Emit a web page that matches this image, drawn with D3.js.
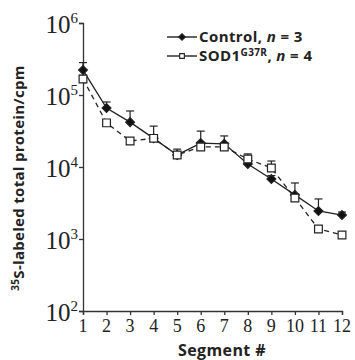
<!DOCTYPE html>
<html>
<head>
<meta charset="utf-8">
<script src="https://cdn.jsdelivr.net/npm/d3@7"></script>
<style>
  body { margin: 0; background: #fff; }
  #chart { width: 355px; height: 360px; }
</style>
</head>
<body>
<div id="chart"></div>
<script>
// segment numbers along the x axis
const segments = [1, 2, 3, 4, 5, 6, 7, 8, 9, 10, 11, 12];

// control mice, n = 3 (mean and upper error)
const controlMean = [222000, 66000, 42000, 25000, 14700, 21500, 21000, 11000, 6800, 4100, 2450, 2150];
const controlErr  = [60000, 14000, 18000, 12000, 3000, 10000, 6000, 1000, 800, 1900, 1150, 220];

// SOD1 G37R mice, n = 4
const sodMean = [167000, 41000, 23000, 25000, 14700, 19000, 19000, 12900, 9700, 3700, 1380, 1140];
const sodErr  = [20000, 4000, 2000, 3000, 1500, 3000, 2000, 2300, 2400, 400, 100, 100];

const yTicks = [100, 1000, 10000, 100000, 1000000];

const width = document.querySelector("#chart").clientWidth;
const height = document.querySelector("#chart").clientHeight;
const svg = d3.select("#chart")
    .append("svg")
    .attr("width", width)
    .attr("height", height);

const x = d3.scaleLinear().domain([1, 12]).range([83, 342]);
const y = d3.scaleLog().domain([100, 1000000]).range([311, 23]);

const sans = "'Open Sans', 'DejaVu Sans', sans-serif";
const serif = "'Liberation Serif', 'DejaVu Serif', serif";

// axes
svg.append("g")
    .attr("transform", "translate(83,0)")
    .call(d3.axisLeft(y).tickValues(yTicks).tickSize(4).tickFormat(""));
svg.append("g")
    .attr("transform", "translate(0,311)")
    .call(d3.axisBottom(x).tickValues(segments).tickSize(4).tickFormat(""));
svg.selectAll(".domain").attr("stroke", "#333").attr("stroke-width", 1.3);
svg.selectAll(".tick line").attr("stroke", "#333").attr("stroke-width", 1.3);

// y tick labels as 10^n
yTicks.forEach(function(t) {
    const lab = svg.append("text")
        .attr("x", 78)
        .attr("y", y(t) + 10)
        .attr("text-anchor", "end")
        .attr("font-family", serif)
        .attr("font-size", "25px")
        .attr("fill", "#222");
    lab.append("tspan").text("10");
    lab.append("tspan")
        .attr("dy", -10)
        .attr("font-size", "15px")
        .text(Math.round(Math.log10(t)));
});

// x tick labels
svg.selectAll(".xlab")
    .data(segments)
    .enter()
    .append("text")
        .attr("x", function(d) { return x(d); })
        .attr("y", 332)
        .attr("text-anchor", "middle")
        .attr("font-family", serif)
        .attr("font-size", "18px")
        .attr("fill", "#222")
        .text(function(d) { return d; });

// axis titles
svg.append("text")
    .attr("x", 222)
    .attr("y", 356)
    .attr("text-anchor", "middle")
    .attr("font-family", sans)
    .attr("font-weight", "bold")
    .attr("font-size", "16px")
    .attr("letter-spacing", "0.4px")
    .attr("fill", "#222")
    .text("Segment #");

const yt = svg.append("text")
    .attr("transform", "translate(24,178) rotate(-90)")
    .attr("text-anchor", "middle")
    .attr("font-family", sans)
    .attr("font-weight", "bold")
    .attr("font-size", "15px")
    .attr("letter-spacing", "0.3px")
    .attr("fill", "#222");
yt.append("tspan").attr("font-size", "10px").attr("dy", -5).text("35");
yt.append("tspan").attr("dy", 5).text("S-labeled total protein/cpm");

// series
const series = [
    { mean: controlMean, err: controlErr, dash: null, marker: "diamond" },
    { mean: sodMean, err: sodErr, dash: "5,4", marker: "square" }
];

const line = d3.line()
    .x(function(d, i) { return x(segments[i]); })
    .y(function(d) { return y(d); });

series.forEach(function(s) {
    // error bars (upper only)
    const eb = svg.append("g");
    s.mean.forEach(function(m, i) {
        const cx = x(segments[i]);
        eb.append("line")
            .attr("x1", cx).attr("x2", cx)
            .attr("y1", y(m)).attr("y2", y(m + s.err[i]))
            .attr("stroke", "#222").attr("stroke-width", 1.2);
        eb.append("line")
            .attr("x1", cx - 4).attr("x2", cx + 4)
            .attr("y1", y(m + s.err[i])).attr("y2", y(m + s.err[i]))
            .attr("stroke", "#222").attr("stroke-width", 1.2);
    });

    svg.append("path")
        .datum(s.mean)
        .attr("d", line)
        .attr("fill", "none")
        .attr("stroke", "#222")
        .attr("stroke-width", 1.3)
        .attr("stroke-dasharray", s.dash);

    const sym = s.marker === "diamond"
        ? d3.symbol().type(d3.symbolDiamond2).size(50)
        : d3.symbol().type(d3.symbolSquare).size(60);

    svg.selectAll(".m" + s.marker)
        .data(s.mean)
        .enter()
        .append("path")
            .attr("transform", function(d, i) { return "translate(" + x(segments[i]) + "," + y(d) + ")"; })
            .attr("d", sym)
            .attr("fill", s.marker === "diamond" ? "#111" : "#fff")
            .attr("stroke", "#222")
            .attr("stroke-width", 1.2);
});

// legend
const legend = [
    { label: "Control", sup: null, n: "3", marker: "diamond", yy: 37 },
    { label: "SOD1", sup: "G37R", n: "4", marker: "square", yy: 56 }
];
legend.forEach(function(l) {
    svg.append("line")
        .attr("x1", 167).attr("x2", 197)
        .attr("y1", l.yy).attr("y2", l.yy)
        .attr("stroke", "#222").attr("stroke-width", 1.4);
    const sym = l.marker === "diamond"
        ? d3.symbol().type(d3.symbolDiamond2).size(28)
        : d3.symbol().type(d3.symbolSquare).size(22);
    svg.append("path")
        .attr("transform", "translate(182," + l.yy + ")")
        .attr("d", sym)
        .attr("fill", l.marker === "diamond" ? "#111" : "#fff")
        .attr("stroke", "#222")
        .attr("stroke-width", 1.1);
    const t = svg.append("text")
        .attr("x", 199)
        .attr("y", l.yy + 5)
        .attr("font-family", sans)
        .attr("font-weight", "bold")
        .attr("font-size", "15px")
        .attr("letter-spacing", "0.4px")
        .attr("fill", "#222");
    t.append("tspan").text(l.label);
    if (l.sup) {
        t.append("tspan").attr("dy", -5).attr("font-size", "10px").text(l.sup);
        t.append("tspan").attr("dy", 5).text(",\u00a0");
    } else {
        t.append("tspan").text(",\u00a0");
    }
    t.append("tspan").attr("font-style", "italic").text("n");
    t.append("tspan").text("\u00a0=\u00a0" + l.n);
});
</script>
</body>
</html>
